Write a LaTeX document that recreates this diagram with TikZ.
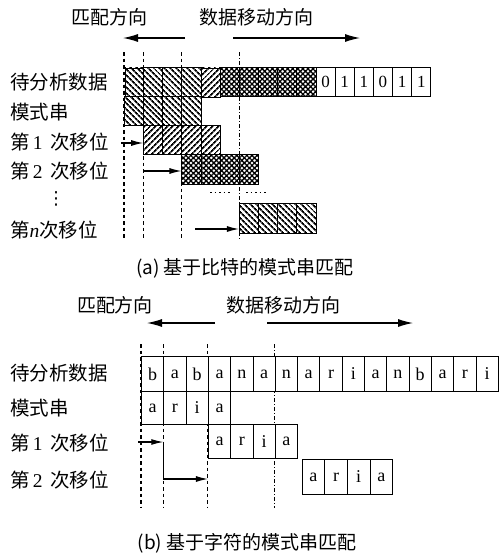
\documentclass[tikz,border=0pt]{standalone}
\usepackage{fontspec}
\setmainfont{Liberation Serif}
\newfontfamily\cjk{Noto Sans CJK SC}
\newfontfamily\dejavu{DejaVu Sans}
\usetikzlibrary{patterns,patterns.meta,arrows.meta}
\tikzset{
  lab/.style={anchor=west, inner sep=0pt, font=\cjk\fontsize{19.5}{21}\selectfont},
  ttl/.style={inner sep=0pt, font=\cjk\fontsize{19}{21}\selectfont},
  acell/.style={draw, line width=0.9pt, minimum width=19.15pt, minimum height=29pt,
    inner sep=0pt, anchor=north west, font=\fontsize{17}{17}\selectfont},
  bcell/.style={draw, line width=0.9pt, minimum width=22.3pt, minimum height=34pt,
    inner sep=0pt, anchor=north west, font=\fontsize{18}{18}\selectfont},
  hb/.style={preaction={fill=white}, pattern={Lines[angle=-45,distance=4pt,line width=1.9pt]}},
  hf/.style={preaction={fill=white}, pattern={Lines[angle=45,distance=4pt,line width=1.9pt]}},
  hx/.style={preaction={fill=white}, pattern={Hatch[angle=45,distance=3.6pt,line width=1.3pt]}},
  vdash/.style={line width=1.1pt, dash pattern=on 3.5pt off 3pt},
  vdd/.style={line width=0.8pt, dash pattern=on 4pt off 2pt on 1pt off 2pt},
  bigarr/.style={line width=1.1pt, -{Latex[length=15pt,width=8pt]}},
  smarr/.style={line width=1.1pt, -{Latex[length=12pt,width=6pt]}},
}
\begin{document}
\begin{tikzpicture}[x=1pt,y=-1pt]
\useasboundingbox (0,0) rectangle (499,555);

% ===================== (a) =====================
\node[ttl] (at1) at (109,17) {匹配方向};
\node[ttl] (at2) at (256,17) {数据移动方向};
\coordinate (aL1) at (185,38); \coordinate (aL2) at (123,38);
\coordinate (aR1) at (233,38); \coordinate (aR2) at (360,38);
\draw[bigarr] (aL1) -- (aL2);
\draw[bigarr] (aR1) -- (aR2);

% guide lines
\draw[vdash] (124,52) -- (124,240);
\draw[vdash] (143.15,52) -- (143.15,240);
\draw[vdash] (181.45,52) -- (181.45,240);
\draw[vdd] (238.9,52) -- (238.9,240);
\draw[line width=1pt, dash pattern=on 1.5pt off 3pt] (210,192) -- (231,192);
\draw[line width=1pt, dash pattern=on 1.5pt off 3pt] (246,192) -- (266,192);

% data row
\foreach \i in {0,...,3} \node[acell,hb] (ad\i) at ({124+\i*19.15},67) {};
\node[acell,hf] (ad4) at ({124+4*19.15},67) {};
\foreach \i in {5,...,9} \node[acell,hx] (ad\i) at ({124+\i*19.15},67) {};
\foreach \i/\d in {10/0,11/1,12/1,13/0,14/1,15/1}
  \node[acell] (ad\i) at ({124+\i*19.15},67) {\d};
% pattern
\foreach \i in {0,...,3} \node[acell,hb] (ap\i) at ({124+\i*19.15},96) {};
% shift 1
\foreach \i in {0,...,3} \node[acell,hf] (ar3\i) at ({124+(\i+1)*19.15},125) {};
% shift 2
\foreach \i in {0,...,3} \node[acell,hx,minimum height=30pt] (ar4\i) at ({124+(\i+3)*19.15},154) {};
% shift n
\foreach \i in {0,...,3} \node[acell,hb,minimum height=30pt] (ar5\i) at ({124+(\i+6)*19.15},203) {};

\node[lab] (la1) at (10,82) {待分析数据};
\node[lab] (la2) at (10,112) {模式串};
\node[lab] (la3) at (10,142) {第{\rmfamily\,1\,} 次移位};
\node[lab] (la4) at (10,171) {第{\rmfamily\,2\,} 次移位};
\node[inner sep=0pt, font=\dejavu\fontsize{18}{18}\selectfont] (lav) at (56,199) {⋮};
\node[lab] (la5) at (10,230) {第{\rmfamily\itshape n}次移位};

\coordinate (a3s) at (121,143);
\coordinate (a4s) at (143.15,171);
\coordinate (a5s) at (195,229);
\draw[smarr] (a3s) -- (a3s -| ar30.west);
\draw[smarr] (a4s) -- (a4s -| ar40.west);
\draw[smarr] (a5s) -- (a5s -| ar50.west);

\node[ttl] (capa) at (245,268) {(a) 基于比特的模式串匹配};

% ===================== (b) =====================
\node[ttl] (bt1) at (115,305) {匹配方向};
\node[ttl] (bt2) at (283,305) {数据移动方向};
\coordinate (bL1) at (215,323); \coordinate (bL2) at (147,323);
\coordinate (bR1) at (267,323); \coordinate (bR2) at (413,323);
\draw[bigarr] (bL1) -- (bL2);
\draw[bigarr] (bR1) -- (bR2);

\draw[vdash] (141,344) -- (141,508);
\draw[vdash] (163.3,344) -- (163.3,508);
\draw[vdash] (207.9,344) -- (207.9,508);
\draw[vdd] (274.8,344) -- (274.8,508);

\foreach \i/\c in {0/b,1/a,2/b,3/a,4/n,5/a,6/n,7/a,8/r,9/i,10/a,11/n,12/b,13/a,14/r,15/i}
  \node[bcell,fill=white,minimum height=35pt] (bd\i) at ({141+\i*22.3},356) {\c};
\foreach \i/\c in {0/a,1/r,2/i,3/a}
  \node[bcell,fill=white,minimum height=33pt] (bp\i) at ({141+\i*22.3},391) {\c};
\foreach \i/\c in {0/a,1/r,2/i,3/a}
  \node[bcell,fill=white] (b1\i) at ({141+(\i+3)*22.3},424) {\c};
\foreach \i/\c in {0/a,1/r,2/i,3/a}
  \node[bcell,fill=white,minimum height=35pt,minimum width=22.7pt] (b2\i) at ({301.5+\i*22.7},459) {\c};

\node[lab] (lb1) at (10,373) {待分析数据};
\node[lab] (lb2) at (10,408) {模式串};
\node[lab] (lb3) at (10,443) {第{\rmfamily\,1\,} 次移位};
\node[lab] (lb4) at (10,480) {第{\rmfamily\,2\,} 次移位};

\coordinate (b3s) at (138,442);
\coordinate (b3c) at (163.3,442);
\coordinate (b4y) at (163.3,479);
\draw[smarr] (b3s) -- (b3c);
\draw[smarr] (b3c) -- (b4y) -- (b4y -| b10.west);

\node[ttl] (capb) at (247,543) {(b) 基于字符的模式串匹配};
\end{tikzpicture}
\end{document}
